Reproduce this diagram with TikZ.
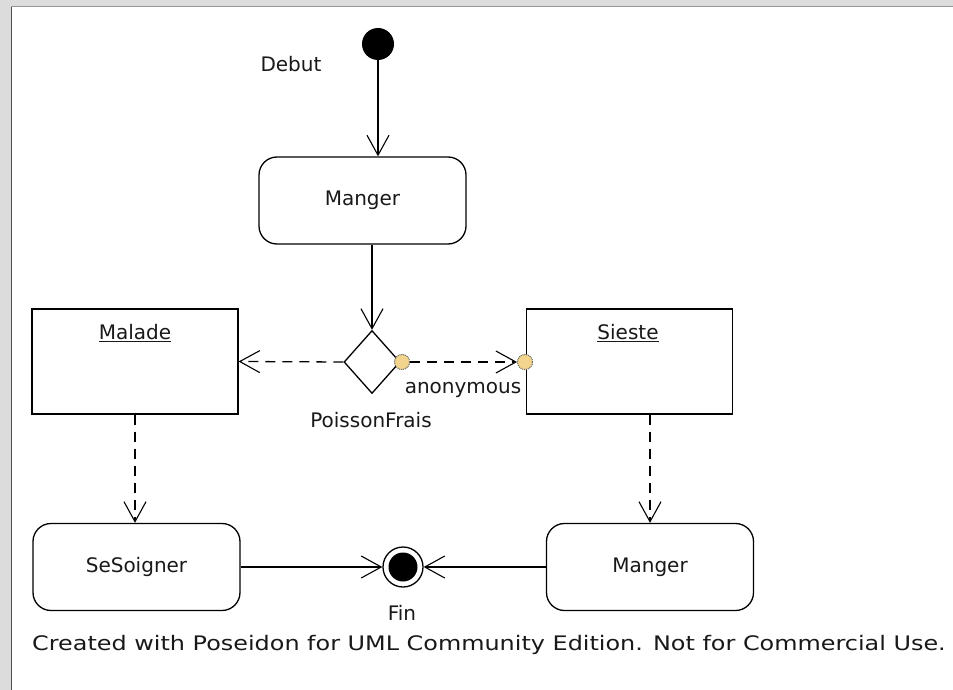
\documentclass[tikz,border=0pt]{standalone}
\usepackage{fontspec}
\setmainfont{DejaVu Sans}
\usetikzlibrary{arrows.meta,shapes.geometric}
\definecolor{bggray}{RGB}{220,220,220}
\definecolor{edgedark}{RGB}{80,80,80}
\definecolor{edgegray}{RGB}{150,150,150}
\definecolor{pinfill}{RGB}{242,212,140}
\begin{document}
\begin{tikzpicture}[x=1pt,y=-1pt,
  every node/.style={font=\fontsize{20}{24}\selectfont, inner sep=0pt, text=black!90},
  line/.style={line width=1.3pt},
  act/.style={draw, line width=1.3pt, rounded corners=18pt, minimum width=207pt, minimum height=87pt},
  obj/.style={draw, line width=1.3pt, minimum width=206pt, minimum height=105pt},
  tipv/.style={-{Straight Barb[length=20pt,width=22pt,line width=1.1pt]}},
  dashline/.style={dash pattern=on 10pt off 7pt},
  pinnode/.style={circle, draw=black!60, densely dotted, line width=0.9pt, fill=pinfill, minimum size=15pt}
]
\useasboundingbox (0,0) rectangle (953,690);
\fill[bggray] (0,0) rectangle (953,690);
\fill[white] (12,7) rectangle (953,690);
\draw[edgedark, line width=1.5pt] (11.5,7) -- (11.5,690);
\draw[edgegray, line width=1pt] (11,6.5) -- (953,6.5);

% start
\node[circle, fill=black, minimum size=32pt] (start) at (378,44) {};
\node (debut) at (291,64) {Debut};

% activities
\node[act] (manger1) at (362.5,200.5) {Manger};
\node[diamond, draw, line width=1.3pt, minimum width=56pt, minimum height=63pt] (dec) at (372,362) {};
\node (poisson) at (371,420) {PoissonFrais};

\node[obj] (malade) at (135,361.5) {};
\node (maladelbl) at (135,333) {\underline{Malade}};
\node[obj] (sieste) at (629.5,361.5) {};
\node (siestelbl) at (628,333) {\underline{Sieste}};

\node[pinnode] (pin1) at (402,362) {};
\node[pinnode] (pin2) at (525,362) {};
\node (anon) at (463,390) {anonymous};

\node[act] (soigner) at (136.5,567) {SeSoigner};
\node[act] (manger2) at (650,567) {Manger};

\node[circle, draw, line width=1.3pt, minimum size=40pt] (fin) at (403,567) {};
\node[circle, fill=black, minimum size=29pt] (finin) at (fin.center) {};
\node (finlbl) at (402,613) {Fin};

\node (footer) at (489,645) {\scalebox{1.195}[1]{Created with Poseidon for UML Community Edition. Not for Commercial Use.}};

% connectors
\draw[line, tipv] (start.south) -- (start.south |- manger1.north);
\draw[line, tipv] (dec.north |- manger1.south) -- (dec.north);
\draw[line, dashline, tipv] (dec.west) -- (malade.east);
\draw[line, dashline, tipv] (pin1.east) -- (pin2.west);
\draw[line, dashline, tipv] (malade.south) -- (malade.south |- soigner.north);
\draw[line, dashline, tipv] (manger2.north |- sieste.south) -- (manger2.north);
\draw[line, tipv] (soigner.east) -- (fin.west);
\draw[line, tipv] (manger2.west) -- (fin.east);
\node[pinnode] at (pin1.center) {};
\node[pinnode] at (pin2.center) {};
\end{tikzpicture}
\end{document}
